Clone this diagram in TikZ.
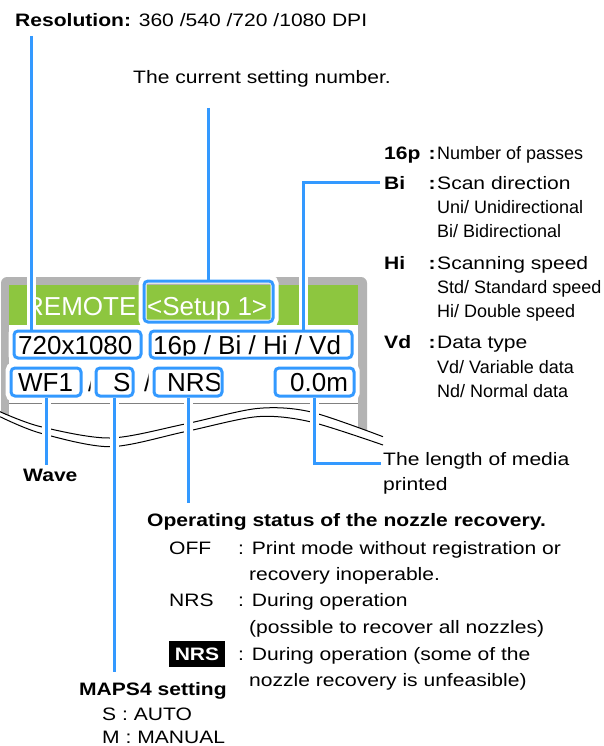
\documentclass[tikz,border=0pt]{standalone}
\usepackage{fontspec}
\setmainfont{Liberation Sans}[FakeStretch=1.17]
\newfontfamily\plainsf{Liberation Sans}
\usetikzlibrary{positioning}
\definecolor{ablue}{RGB}{51,153,255}
\definecolor{lcdgreen}{RGB}{141,198,63}
\definecolor{framegray}{RGB}{179,179,179}
\definecolor{rulegray}{RGB}{128,128,128}
\pgfdeclarelayer{panel}
\pgfdeclarelayer{halo}
\pgfdeclarelayer{top}
\pgfsetlayers{panel,halo,main,top}

\begin{document}
\begin{tikzpicture}[x=1pt, y=-1pt,
    txt/.style={inner sep=0, anchor=base west, font=\fontsize{18}{22}\selectfont},
    bld/.style={txt, font=\fontsize{18}{22}\selectfont\bfseries},
    nar/.style={txt, font=\fontsize{18}{22}\selectfont\plainsf},
    lcd/.style={inner sep=0, anchor=base west, font=\fontsize{26}{30}\selectfont\plainsf},
    pbox/.style={draw=ablue, line width=3, rounded corners=4, inner sep=0},
    whiteout/.style={draw=white, line width=9},
    lead/.style={draw=ablue, line width=3},
    brk/.style={black, line width=1}
]
\useasboundingbox (0,0) rectangle (603,746);

% operation panel
\begin{pgfonlayer}{panel}
\fill[framegray, rounded corners=6] (1,277) rectangle (367,470);
\fill[white] (9,285) rectangle (358,472);
\fill[lcdgreen] (9,285) rectangle (358,325);
\draw[rulegray, line width=1.5] (9,403.5) -- (358,403.5);
% break line
\fill[white] plot[smooth] coordinates {(-2,411.5) (40,426.5) (110,438) (185,424) (257,408.5) (310,411.7) (383,436.7) (392,440)}
  -- (392,480) -- (-2,480) -- cycle;
\draw[brk] plot[smooth] coordinates {(0,411.7) (40,426.5) (110,438) (185,424) (257,408.5) (310,411.7) (383,436.7)};
\draw[brk] plot[smooth] coordinates {(0,416.7) (40,433) (110,446.7) (185,431.7) (257,416.7) (310,421.7) (383,445)};

\node[lcd, text=white] (remote) at (25,315) {REMOTE};
\node[lcd, text=white] (setup) at (147,315) {<Setup 1>};
\node[lcd] (res) at (18,354.3) {720x1080};
\node[lcd] (mode) at (153,354.3) {16p / Bi / Hi / Vd};
\node[lcd] (wave) at (18,391.7) {WF1};
\node[lcd] (slashA) at (88,391.7) {/};
\node[lcd] (maps) at (113,391.7) {S};
\node[lcd] (slashB) at (144,391.7) {/};
\node[lcd] (nrs) at (167,391.7) {NRS};
\node[lcd] (len) at (290,391.7) {0.0m};
\end{pgfonlayer}

\node[pbox, minimum width=127, minimum height=27] (resbox) at (77.5,344.5) {};
\node[pbox, minimum width=202, minimum height=27] (modebox) at (251,344.5) {};
\node[pbox, minimum width=129, minimum height=41] (setupbox) at (208.5,301.5) {};
\node[pbox, minimum width=70, minimum height=28] (wavebox) at (46,382) {};
\node[pbox, minimum width=37, minimum height=28] (mapsbox) at (114.5,382) {};
\node[pbox, minimum width=68, minimum height=28] (nrsbox) at (188,382) {};
\node[pbox, minimum width=79, minimum height=28] (lenbox) at (314.5,382) {};

% labels
\node[txt] (restitle) at (15,26.7) {\textbf{Resolution:} 360 /540 /720 /1080 DPI};
\node[txt, anchor=base] (settitle) at (262,83.3) {The current setting number.};

\node[bld] (key16p) at (384,159.3) {16p};
\node[bld] (col16p) at (428.5,159.3) {:};
\node[nar] (txt16p) at (437,159.3) {Number of passes};
\node[bld] (keyBi) at (384,189.3) {Bi};
\node[bld] (colBi) at (428.5,189.3) {:};
\node[txt] (txtBi) at (437,189.3) {Scan direction};
\node[nar] (uni) at (437,213.3) {Uni/ Unidirectional};
\node[nar] (bidir) at (437,237.3) {Bi/ Bidirectional};
\node[bld] (keyHi) at (384,269.3) {Hi};
\node[bld] (colHi) at (428.5,269.3) {:};
\node[txt] (txtHi) at (437,269.3) {Scanning speed};
\node[nar] (std) at (437,293.3) {Std/ Standard speed};
\node[nar] (dbl) at (437,317.7) {Hi/ Double speed};
\node[bld] (keyVd) at (384,348.3) {Vd};
\node[bld] (colVd) at (428.5,348.3) {:};
\node[txt] (txtVd) at (437,348.3) {Data type};
\node[nar] (vdata) at (437,373.3) {Vd/ Variable data};
\node[nar] (ndata) at (437,397.7) {Nd/ Normal data};

\node[txt] (lenlbl) at (383,465) {The length of media};
\node[txt] (lenlbl2) at (383,490) {printed};

\node[bld] (wavelbl) at (23,481.7) {Wave};

\node[bld] (nrslbl) at (147,526.7) {Operating status of the nozzle recovery.};
\node[txt] (offkey) at (169,554) {OFF};
\node[txt] (offtxt) at (238,554) {: Print mode without registration or};
\node[txt] (offtxt2) at (249,580.7) {recovery inoperable.};
\node[txt] (nrskey) at (169,606.7) {NRS};
\node[txt] (nrstxt) at (238,606.7) {: During operation};
\node[txt] (nrstxt2) at (249,633.3) {(possible to recover all nozzles)};
\node[bld, anchor=center, fill=black, text=white, inner xsep=5.5, minimum height=26] (nrsinv) at (197,654) {NRS};
\node[txt] (invtxt) at (238,660) {: During operation (some of the};
\node[txt] (invtxt2) at (249,686.7) {nozzle recovery is unfeasible)};

\node[bld] (mapslbl) at (79,695) {MAPS4 setting};
\node[txt] (mapsS) at (102,720) {S : AUTO};
\node[txt] (mapsM) at (102,743.3) {M : MANUAL};

% leaders
\coordinate (resfoot) at (31.7,36);
\coordinate (setfoot) at (208.5,108);
\coordinate (wavetip) at (wavebox.south |- wavelbl.north);
\coordinate (mapstip) at (mapsbox.south |- mapslbl.north);
\coordinate (nrstip) at (nrsbox.south |- nrslbl.north);

\begin{pgfonlayer}{halo}
\foreach \b in {resbox,modebox,setupbox,wavebox,mapsbox,nrsbox,lenbox}
  \draw[whiteout, line width=8, rounded corners=4] (\b.north west) rectangle (\b.south east);
\end{pgfonlayer}

\foreach \ly/\st in {halo/whiteout, top/lead}{
  \begin{pgfonlayer}{\ly}
  \draw[\st] (resfoot) -- (resfoot |- resbox.north);
  \draw[\st] (setfoot) -- (setupbox.north);
  \draw[\st] ([xshift=52pt]modebox.north) |- ([xshift=-4pt]keyBi.west);
  \draw[\st] (wavebox.south) -- ([yshift=4pt]wavetip);
  \draw[\st] (mapsbox.south) -- ([yshift=10pt]mapstip);
  \draw[\st] (nrsbox.south) -- ([yshift=10pt]nrstip);
  \draw[\st] (lenbox.south) |- ([shift={(-2pt,2pt)}]lenlbl.base west);
  \end{pgfonlayer}
}
\end{tikzpicture}
\end{document}
